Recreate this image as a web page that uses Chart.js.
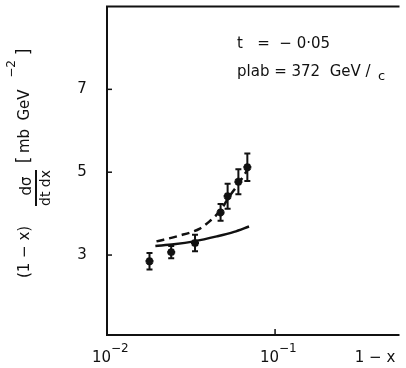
<!DOCTYPE html>
<html>
<head>
<meta charset="utf-8">
<script src="https://cdn.jsdelivr.net/npm/chart.js@4"></script>
<style>
  html, body { margin: 0; padding: 0; background: #fff; }
  #wrap { width: 406px; height: 368px; position: relative; }
</style>
</head>
<body>
<div id="wrap"><canvas id="chart"></canvas></div>
<script>
// data
const oneMinusX = [0.0179, 0.0241, 0.0334, 0.0474, 0.0522, 0.0605, 0.0684];
const crossSec = [2.85, 3.07, 3.29, 4.03, 4.42, 4.77, 5.12];
const crossErr = [0.2, 0.15, 0.2, 0.2, 0.3, 0.3, 0.33];

const solidX = [0.0194, 0.025, 0.033, 0.045, 0.057, 0.07];
const solidY = [3.22, 3.26, 3.33, 3.45, 3.56, 3.69];

const dashX = [0.0197, 0.0265, 0.0357, 0.0409, 0.0474, 0.0522, 0.0605, 0.0684];
const dashY = [3.33, 3.46, 3.64, 3.82, 4.08, 4.35, 4.72, 5.05];

const yTicks = [3, 5, 7];
const xTicks = [0.01, 0.1];
const xTickExp = ['\u22122', '\u22121'];

const FONT = '"DejaVu Sans", sans-serif';
const INK = '#111';

const toPts = (xs, ys) => xs.map((x, i) => ({ x: x, y: ys[i] }));

// frame, inward ticks, error bars, labels
const decor = {
    id: 'decor',
    beforeDatasetsDraw(chart) {
        const { ctx, chartArea: a, scales: { x, y } } = chart;
        ctx.save();
        ctx.strokeStyle = INK;
        ctx.lineWidth = 2;
        ctx.beginPath();
        ctx.moveTo(a.right, a.top);
        ctx.lineTo(a.left, a.top);
        ctx.lineTo(a.left, a.bottom);
        ctx.lineTo(a.right, a.bottom);
        ctx.stroke();
        ctx.lineWidth = 1.5;
        yTicks.forEach(v => {
            const py = y.getPixelForValue(v);
            ctx.beginPath();
            ctx.moveTo(a.left, py);
            ctx.lineTo(a.left + 5, py);
            ctx.stroke();
        });
        xTicks.forEach(v => {
            const px = x.getPixelForValue(v);
            ctx.beginPath();
            ctx.moveTo(px, a.bottom);
            ctx.lineTo(px, a.bottom - 6);
            ctx.stroke();
        });

        // error bars
        ctx.lineWidth = 2;
        oneMinusX.forEach((xv, i) => {
            const px = x.getPixelForValue(xv);
            const hi = y.getPixelForValue(crossSec[i] + crossErr[i]);
            const lo = y.getPixelForValue(crossSec[i] - crossErr[i]);
            ctx.beginPath();
            ctx.moveTo(px, hi); ctx.lineTo(px, lo);
            ctx.moveTo(px - 3, hi); ctx.lineTo(px + 3, hi);
            ctx.moveTo(px - 3, lo); ctx.lineTo(px + 3, lo);
            ctx.stroke();
        });
        ctx.restore();
    },
    afterDraw(chart) {
        const { ctx, scales: { x, y } } = chart;
        ctx.save();
        ctx.fillStyle = INK;

        // y tick labels
        ctx.font = '15px ' + FONT;
        ctx.textAlign = 'center';
        ctx.textBaseline = 'middle';
        yTicks.forEach(v => ctx.fillText(String(v), 82, y.getPixelForValue(v)));

        // x tick labels 10^-2, 10^-1
        ctx.textBaseline = 'alphabetic';
        xTicks.forEach((v, i) => {
            const px = x.getPixelForValue(v);
            ctx.font = '15px ' + FONT;
            ctx.textAlign = 'right';
            ctx.fillText('10', px + 4, 362);
            ctx.font = '12px ' + FONT;
            ctx.textAlign = 'left';
            ctx.fillText(xTickExp[i], px + 4, 352);
        });
        ctx.font = '15px ' + FONT;
        ctx.textAlign = 'center';
        ctx.fillText('1 \u2212 x', 375, 362);

        // annotation
        ctx.textAlign = 'left';
        ctx.font = '15px ' + FONT;
        ctx.fillText('t   =  \u2212 0\u00b705', 237, 48);
        ctx.fillText('plab = 372  GeV /', 237, 76);
        ctx.font = '13px ' + FONT;
        ctx.fillText('c', 378, 80);

        // rotated y title, drawn piece by piece
        const rot = (cx, cy, txt, size) => {
            ctx.save();
            ctx.translate(cx, cy);
            ctx.rotate(-Math.PI / 2);
            ctx.font = size + 'px ' + FONT;
            ctx.textAlign = 'center';
            ctx.textBaseline = 'middle';
            ctx.fillText(txt, 0, 0);
            ctx.restore();
        };
        rot(25, 252, '(1 \u2212 x)', 15);
        rot(27, 186, 'd\u03c3', 15);
        rot(46, 188, 'dt dx', 14);
        ctx.fillRect(35, 170, 2, 36);
        rot(25, 160, '[', 17);
        rot(25, 141, 'mb', 15);
        rot(25, 105, 'GeV', 15);
        rot(12, 69, '\u22122', 12);
        rot(25, 52, ']', 17);
        ctx.restore();
    }
};

new Chart(document.getElementById('chart'), {
    type: 'scatter',
    data: {
        datasets: [
            {
                label: 'data',
                data: toPts(oneMinusX, crossSec),
                pointStyle: 'star',
                pointRadius: 4,
                borderWidth: 2.5,
                borderColor: INK,
                backgroundColor: INK
            },
            {
                label: 'solid',
                data: toPts(solidX, solidY),
                showLine: true,
                cubicInterpolationMode: 'monotone',
                pointRadius: 0,
                borderColor: INK,
                borderWidth: 2.5
            },
            {
                label: 'dashed',
                data: toPts(dashX, dashY),
                showLine: true,
                cubicInterpolationMode: 'monotone',
                pointRadius: 0,
                borderColor: INK,
                borderWidth: 2.5,
                borderDash: [8, 5]
            }
        ]
    },
    options: {
        responsive: true,
        maintainAspectRatio: false,
        animation: false,
        events: [],
        layout: { padding: { left: 0, top: 6, right: 4, bottom: 0 } },
        plugins: { legend: { display: false }, tooltip: { enabled: false } },
        scales: {
            x: {
                type: 'logarithmic',
                min: 0.01,
                max: 0.55,
                grid: { display: false },
                border: { display: false },
                ticks: { display: false },
                afterBuildTicks: s => { s.ticks = xTicks.map(v => ({ value: v })); },
                afterFit: s => { s.height = 33; }
            },
            y: {
                min: 1.07,
                max: 9,
                grid: { display: false, drawTicks: false },
                border: { display: false },
                ticks: { display: false },
                afterBuildTicks: s => { s.ticks = yTicks.map(v => ({ value: v })); },
                afterFit: s => { s.width = 107; }
            }
        }
    },
    plugins: [decor]
});
</script>
</body>
</html>
